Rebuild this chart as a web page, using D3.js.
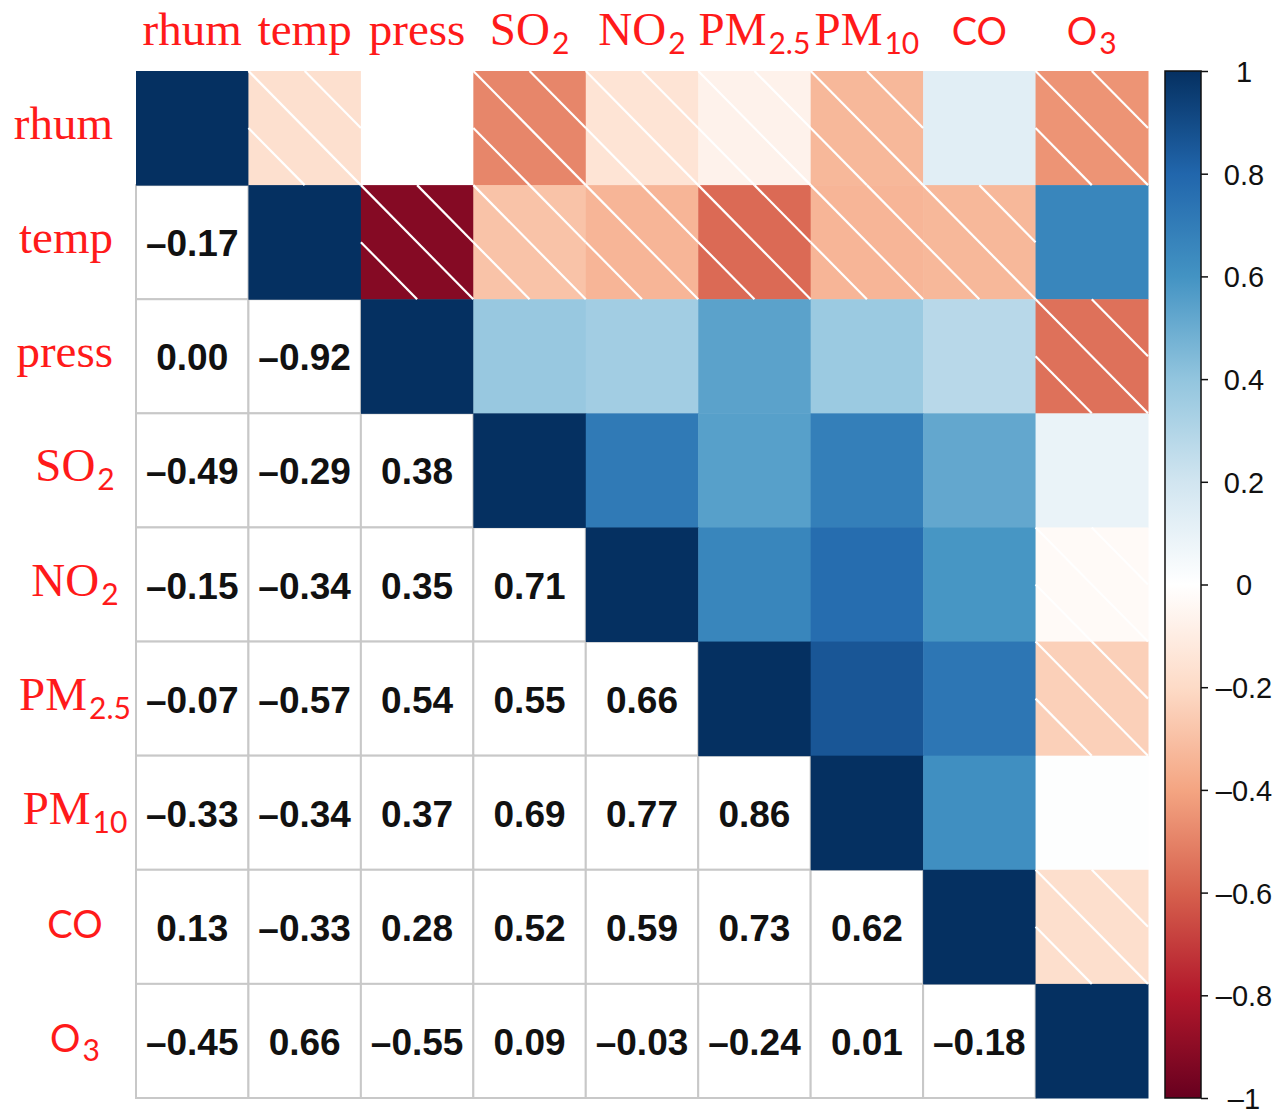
<!DOCTYPE html>
<html>
<head>
<meta charset="utf-8">
<script src="https://cdn.jsdelivr.net/npm/d3@7"></script>
<style>
  html, body { margin: 0; padding: 0; background: #ffffff; }
  svg { display: block; }
</style>
</head>
<body>
<svg id="chart" width="1284" height="1115"></svg>
<script>
// ---------- data ----------
const variables = ["rhum", "temp", "press", "SO2", "NO2", "PM2.5", "PM10", "CO", "O3"];
const labelMain = ["rhum", "temp", "press", "SO", "NO", "PM", "PM", "CO", "O"];
const labelSub  = ["", "", "", "2", "2", "2.5", "10", "", "3"];
const labelSerif = [true, true, true, true, true, true, true, false, false];

// lower triangle correlations (row i, columns 0..i-1)
const lowerRows = [
  [],
  [-0.17],
  [0.00, -0.92],
  [-0.49, -0.29, 0.38],
  [-0.15, -0.34, 0.35, 0.71],
  [-0.07, -0.57, 0.54, 0.55, 0.66],
  [-0.33, -0.34, 0.37, 0.69, 0.77, 0.86],
  [0.13, -0.33, 0.28, 0.52, 0.59, 0.73, 0.62],
  [-0.45, 0.66, -0.55, 0.09, -0.03, -0.24, 0.01, -0.18]
];

const colorStops = ["#67001F", "#B2182B", "#D6604D", "#F4A582", "#FDDBC7", "#FFFFFF",
                    "#D1E5F0", "#92C5DE", "#4393C3", "#2166AC", "#053061"];
const colorbarTicks = [-1, -0.8, -0.6, -0.4, -0.2, 0, 0.2, 0.4, 0.6, 0.8, 1];

// ---------- build matrix ----------
const n = variables.length;
const cells = [];
for (let i = 0; i < n; i++) {
  for (let j = 0; j < n; j++) {
    let v;
    if (i === j) v = 1;
    else if (j < i) v = lowerRows[i][j];
    else v = lowerRows[j][i];
    cells.push({ row: i, col: j, value: v, lower: j < i });
  }
}

// ---------- scales ----------
const svg = d3.select("#chart");
const x = d3.scaleBand().domain(d3.range(n)).range([136, 1148]).paddingInner(0).paddingOuter(0);
const y = d3.scaleBand().domain(d3.range(n)).range([71, 1098]).paddingInner(0).paddingOuter(0);
const color = d3.scaleLinear()
  .domain(d3.range(colorStops.length).map(k => -1 + 2 * k / (colorStops.length - 1)))
  .range(colorStops)
  .interpolate(d3.interpolateRgb);

const fmt = v => {
  const s = Math.abs(v).toFixed(2);
  return (v < 0 ? "\u2013" : "") + s;
};

// ---------- lower triangle (white cells with grey grid) ----------
const lower = cells.filter(d => d.lower);
svg.append("g").selectAll("rect").data(lower).join("rect")
  .attr("x", d => x(d.col)).attr("y", d => y(d.row))
  .attr("width", x.bandwidth()).attr("height", y.bandwidth())
  .attr("fill", "#ffffff").attr("stroke", "#c8c8c8").attr("stroke-width", 2);

svg.append("g").selectAll("text").data(lower).join("text")
  .attr("x", d => x(d.col) + x.bandwidth() / 2)
  .attr("y", d => y(d.row) + y.bandwidth() / 2 + 14)
  .attr("text-anchor", "middle")
  .attr("font-family", "'Liberation Sans', Arial, sans-serif")
  .attr("font-weight", "bold")
  .attr("font-size", 37)
  .attr("fill", "#111111")
  .text(d => fmt(d.value));

// ---------- upper triangle incl. diagonal ----------
const upper = cells.filter(d => !d.lower);
svg.append("g").selectAll("rect").data(upper).join("rect")
  .attr("x", d => x(d.col)).attr("y", d => y(d.row))
  .attr("width", x.bandwidth() + 0.5).attr("height", y.bandwidth() + 0.5)
  .attr("fill", d => color(d.value));

// hatching for negative correlations
const hatchG = svg.append("g");
upper.filter(d => d.value < 0).forEach(d => {
  const x0 = x(d.col), y0 = y(d.row), w = x.bandwidth(), h = y.bandwidth();
  const segs = [
    [x0, y0, x0 + w, y0 + h],
    [x0 + w / 2, y0, x0 + w, y0 + h / 2],
    [x0, y0 + h / 2, x0 + w / 2, y0 + h]
  ];
  segs.forEach(s => {
    hatchG.append("line")
      .attr("x1", s[0]).attr("y1", s[1]).attr("x2", s[2]).attr("y2", s[3])
      .attr("stroke", "#ffffff").attr("stroke-width", 2.2);
  });
});

// ---------- labels ----------
const serifFont = "'Liberation Serif', 'Times New Roman', serif";
const sansFont = "Lato, 'Open Sans', sans-serif";

function addLabel(g, i) {
  const t = g.append("text")
    .attr("fill", "#ff1a1a");
  t.append("tspan")
    .attr("font-family", labelSerif[i] ? serifFont : sansFont)
    .attr("font-size", labelSerif[i] ? 47 : 38)
    .text(labelMain[i]);
  if (labelSub[i]) {
    t.append("tspan")
      .attr("font-family", sansFont)
      .attr("font-size", 30)
      .attr("dx", 2)
      .attr("dy", 9)
      .text(labelSub[i]);
  }
  return t;
}

// column headers
const colG = svg.append("g");
d3.range(n).forEach(i => {
  const g = colG.append("g");
  addLabel(g, i)
    .attr("x", x(i) + x.bandwidth() / 2)
    .attr("y", 45)
    .attr("text-anchor", "middle");
});

// row labels
const rowG = svg.append("g");
d3.range(n).forEach(i => {
  const g = rowG.append("g");
  const isExpr = labelSub[i] !== "" || !labelSerif[i];
  addLabel(g, i)
    .attr("x", isExpr ? 75 : 113)
    .attr("y", y(i) + y.bandwidth() / 2 + 11)
    .attr("text-anchor", isExpr ? "middle" : "end");
});

// ---------- colour bar ----------
const cb = d3.scaleLinear().domain([-1, 1]).range([1098, 71]);
const defs = svg.append("defs");
const grad = defs.append("linearGradient").attr("id", "cbGrad")
  .attr("x1", 0).attr("y1", 1).attr("x2", 0).attr("y2", 0);
colorStops.forEach((c, k) => {
  grad.append("stop").attr("offset", k / (colorStops.length - 1)).attr("stop-color", c);
});
const cbX = 1165, cbW = 36;
svg.append("rect")
  .attr("x", cbX).attr("y", cb(1))
  .attr("width", cbW).attr("height", cb(-1) - cb(1))
  .attr("fill", "url(#cbGrad)")
  .attr("stroke", "#111111").attr("stroke-width", 1.5);

const axis = d3.axisRight(cb)
  .tickValues(colorbarTicks)
  .tickSize(7)
  .tickFormat(v => (v < 0 ? "\u2013" : "") + (Math.abs(v) === 1 || v === 0 ? d3.format("d")(Math.abs(v)) : Math.abs(v).toFixed(1)));
const axG = svg.append("g").attr("transform", `translate(${cbX + cbW},0)`).call(axis);
axG.select(".domain").remove();
axG.selectAll(".tick line").attr("stroke", "#111111").attr("stroke-width", 1.5);
axG.selectAll(".tick text")
  .attr("x", 1244 - (cbX + cbW))
  .attr("dy", "0.36em")
  .attr("text-anchor", "middle")
  .attr("font-family", "'Liberation Sans', Arial, sans-serif")
  .attr("font-size", 29)
  .attr("fill", "#111111");
</script>
</body>
</html>
